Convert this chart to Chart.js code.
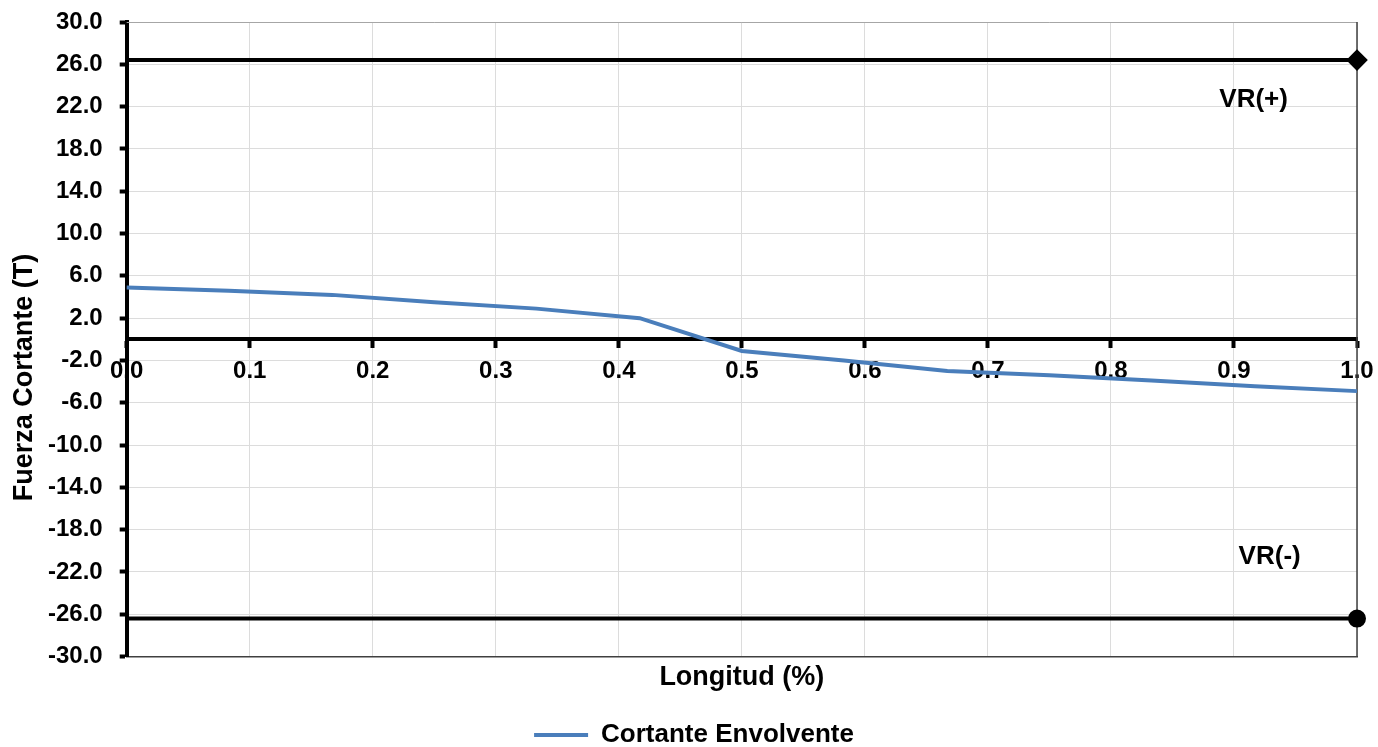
<!DOCTYPE html>
<html>
<head>
<meta charset="utf-8">
<title>Fuerza Cortante</title>
<script src="https://cdn.jsdelivr.net/npm/chart.js@4.4.1/dist/chart.umd.min.js"></script>
<style>
  html, body { margin: 0; padding: 0; background: #fff; }
</style>
</head>
<body>
<canvas id="cortanteChart" width="1378" height="747"></canvas>
<script>
// Datos (longitud en fracción del tramo)
const longitud = [0, 0.083, 0.167, 0.25, 0.333, 0.417, 0.5, 0.583, 0.667, 0.75, 0.833, 0.917, 1.0];
const cortanteEnvolvente = [4.9, 4.6, 4.2, 3.5, 2.9, 2.0, -1.1, -2.0, -3.0, -3.4, -3.9, -4.45, -4.9];

// Cortante resistente VR(+) y VR(-)
const vrLongitud = [0, 1.0];
const vrPositivo = [26.4, 26.4];
const vrNegativo = [-26.4, -26.4];

// Escalas
const yMin = -30, yMax = 30, yPaso = 4;
const xMin = 0, xMax = 1, xPaso = 0.1;

// Etiquetas de las rectas VR (en coordenadas de datos)
const textosVR = ['VR(+)', 'VR(-)'];
const textosVRx = [0.916, 0.929];
const textosVRy = [22.6, -20.6];

const fuente = '"Liberation Sans", Arial, sans-serif';
const azul = '#4A7EBB';

const aPuntos = (xs, ys) => xs.map((x, i) => ({ x: x, y: ys[i] }));

// Título del eje Y centrado en la altura total (como en Excel)
const tituloEjeY = {
    id: 'tituloEjeY',
    afterDraw(chart) {
        const ctx = chart.ctx;
        ctx.save();
        ctx.translate(25, chart.height / 2 + 4);
        ctx.rotate(-Math.PI / 2);
        ctx.font = 'bold 27px ' + fuente;
        ctx.fillStyle = '#000';
        ctx.textAlign = 'center';
        ctx.textBaseline = 'middle';
        ctx.fillText('Fuerza Cortante (T)', 0, 0);
        ctx.restore();
    }
};

// Borde superior y derecho del área de trazado
const marco = {
    id: 'marco',
    beforeDatasetsDraw(chart) {
        const { ctx, chartArea: a } = chart;
        ctx.save();
        ctx.lineWidth = 1;
        ctx.strokeStyle = '#a6a6a6';
        ctx.beginPath();
        ctx.moveTo(a.left, a.top + 0.5);
        ctx.lineTo(a.right, a.top + 0.5);
        ctx.stroke();
        ctx.strokeStyle = '#404040';
        ctx.lineWidth = 1.5;
        ctx.beginPath();
        ctx.moveTo(a.right, a.top);
        ctx.lineTo(a.right, a.bottom);
        ctx.stroke();
        ctx.restore();
    }
};

// Textos VR(+) / VR(-)
const etiquetasVR = {
    id: 'etiquetasVR',
    afterDatasetsDraw(chart) {
        const { ctx, scales } = chart;
        ctx.save();
        ctx.font = 'bold 26px ' + fuente;
        ctx.fillStyle = '#000';
        ctx.textAlign = 'center';
        ctx.textBaseline = 'middle';
        textosVR.forEach((t, i) => {
            ctx.fillText(t, scales.x.getPixelForValue(textosVRx[i]), scales.y.getPixelForValue(textosVRy[i]));
        });
        ctx.restore();
    }
};

const ctx = document.getElementById('cortanteChart').getContext('2d');

const cortanteChart = new Chart(ctx, {
    type: 'line',
    data: {
        datasets: [{
            label: 'Cortante Envolvente',
            data: aPuntos(longitud, cortanteEnvolvente),
            borderColor: azul,
            backgroundColor: azul,
            borderWidth: 4,
            pointRadius: 0,
            tension: 0,
            clip: false
        }, {
            label: 'VR(+)',
            data: aPuntos(vrLongitud, vrPositivo),
            borderColor: '#000',
            backgroundColor: '#000',
            borderWidth: 4,
            pointRadius: [0, 8],
            pointHoverRadius: [0, 8],
            pointStyle: 'rectRot',
            pointBackgroundColor: '#000',
            pointBorderColor: '#000',
            clip: false
        }, {
            label: 'VR(-)',
            data: aPuntos(vrLongitud, vrNegativo),
            borderColor: '#000',
            backgroundColor: '#000',
            borderWidth: 4,
            pointRadius: [0, 7],
            pointHoverRadius: [0, 7],
            pointStyle: 'circle',
            pointBackgroundColor: '#000',
            pointBorderColor: '#000',
            clip: false
        }]
    },
    options: {
        responsive: false,
        animation: false,
        events: [],
        layout: {
            padding: { left: 31, right: 21, top: 22, bottom: -11 }
        },
        plugins: {
            tooltip: { enabled: false },
            legend: {
                position: 'bottom',
                labels: {
                    filter: (item) => item.datasetIndex === 0,
                    usePointStyle: true,
                    pointStyle: 'line',
                    pointStyleWidth: 54,
                    color: '#000',
                    padding: 2,
                    font: { family: fuente, size: 26, weight: 'bold' }
                }
            }
        },
        scales: {
            x: {
                type: 'linear',
                position: { y: 0 },
                min: xMin,
                max: xMax,
                ticks: {
                    stepSize: xPaso,
                    maxRotation: 0,
                    autoSkip: false,
                    padding: 3,
                    color: '#000',
                    font: { family: fuente, size: 24, weight: 'bold', lineHeight: 1.875 },
                    callback: (v) => Number(v).toFixed(1)
                },
                grid: {
                    color: '#dcdcdc',
                    lineWidth: 1,
                    tickColor: '#000',
                    tickWidth: 4,
                    tickLength: 7
                },
                border: { color: '#000', width: 4 }
            },
            x2: {
                type: 'linear',
                position: 'bottom',
                min: xMin,
                max: xMax,
                ticks: { display: false },
                grid: { display: false, drawTicks: false },
                border: { display: true, color: '#404040', width: 1.5 },
                title: {
                    display: true,
                    text: 'Longitud (%)',
                    color: '#000',
                    padding: { top: 5, bottom: 26 },
                    font: { family: fuente, size: 27, weight: 'bold' }
                }
            },
            y: {
                type: 'linear',
                position: 'left',
                min: yMin,
                max: yMax,
                ticks: {
                    stepSize: yPaso,
                    padding: 17,
                    color: '#000',
                    font: { family: fuente, size: 24, weight: 'bold', lineHeight: 0.4 },
                    callback: (v) => Number(v).toFixed(1)
                },
                grid: {
                    color: '#dcdcdc',
                    lineWidth: 1,
                    tickColor: '#000',
                    tickWidth: 4,
                    tickLength: 7
                },
                border: { color: '#000', width: 4 }
            }
        }
    },
    plugins: [marco, etiquetasVR, tituloEjeY]
});
</script>
</body>
</html>
